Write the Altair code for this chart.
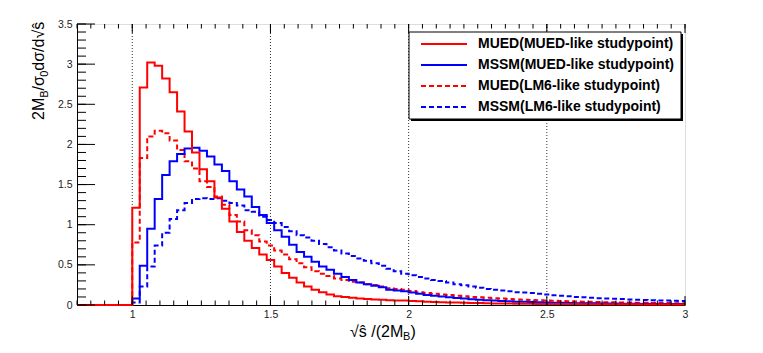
import altair as alt
import pandas as pd

# ---------------- data ----------------
series_names = [
    "MUED(MUED-like studypoint)",
    "MSSM(MUED-like studypoint)",
    "MUED(LM6-like studypoint)",
    "MSSM(LM6-like studypoint)",
]
series_colors = ["#ff0000", "#0000ff", "#ff0000", "#0000ff"]
series_dash = [[1, 0], [1, 0], [5, 3], [5, 3]]

x_domain = [0.8, 3.0]
y_domain = [0, 3.5]
hist_lo, hist_hi, n_bins = 1.0, 3.0, 74

mued_mued = [
    1.21, 2.71, 3.02, 2.98, 2.82, 2.65, 2.41, 2.16, 1.90, 1.69, 1.54, 1.34, 1.20, 1.04, 0.91, 0.80, 0.71, 0.63,
    0.56, 0.48, 0.40, 0.34, 0.28, 0.23, 0.19, 0.16, 0.13, 0.11, 0.10, 0.09, 0.08, 0.075, 0.07, 0.065, 0.06, 0.055,
    0.055, 0.05, 0.046, 0.042, 0.038, 0.035, 0.032, 0.03, 0.028, 0.026, 0.024, 0.022, 0.02, 0.019, 0.018, 0.017,
    0.016, 0.015, 0.014, 0.013, 0.012, 0.012, 0.011, 0.011, 0.01, 0.01, 0.009, 0.009, 0.009, 0.008, 0.008, 0.008,
    0.007, 0.007, 0.007, 0.006, 0.006, 0.006,
]
mssm_mued = [
    0.08, 0.49, 0.95, 1.32, 1.62, 1.79, 1.88, 1.95, 1.96, 1.92, 1.85, 1.75, 1.67, 1.54, 1.44, 1.35, 1.22, 1.12,
    1.02, 0.93, 0.85, 0.75, 0.66, 0.60, 0.54, 0.48, 0.44, 0.39, 0.35, 0.31, 0.28, 0.26, 0.24, 0.22, 0.19, 0.18,
    0.17, 0.155, 0.14, 0.125, 0.115, 0.105, 0.095, 0.087, 0.08, 0.073, 0.066, 0.06, 0.055, 0.05, 0.046, 0.042,
    0.039, 0.036, 0.033, 0.031, 0.029, 0.027, 0.025, 0.023, 0.022, 0.021, 0.02, 0.019, 0.018, 0.017, 0.016, 0.015,
    0.014, 0.013, 0.013, 0.012, 0.012, 0.011,
]
mued_lm6 = [
    0.78, 1.83, 2.10, 2.17, 2.14, 2.05, 1.93, 1.79, 1.70, 1.54, 1.47, 1.35, 1.25, 1.12, 1.04, 0.93, 0.87, 0.79,
    0.74, 0.68, 0.63, 0.57, 0.52, 0.47, 0.42, 0.39, 0.36, 0.33, 0.31, 0.29, 0.28, 0.26, 0.25, 0.23, 0.21, 0.20,
    0.19, 0.175, 0.16, 0.15, 0.14, 0.13, 0.125, 0.115, 0.11, 0.10, 0.095, 0.09, 0.085, 0.08, 0.075, 0.07,
    0.066, 0.062, 0.058, 0.055, 0.052, 0.049, 0.046, 0.043, 0.041, 0.039, 0.037, 0.035, 0.033, 0.031, 0.03, 0.028,
    0.027, 0.026, 0.025, 0.024, 0.023, 0.022,
]
mssm_lm6 = [
    0.03, 0.23, 0.48, 0.74, 0.90, 1.07, 1.18, 1.27, 1.32, 1.33, 1.32, 1.33, 1.30, 1.27, 1.24, 1.18, 1.16, 1.10,
    1.06, 1.02, 0.97, 0.92, 0.87, 0.84, 0.80, 0.76, 0.72, 0.68, 0.64, 0.61, 0.58, 0.55, 0.52, 0.49, 0.45, 0.42,
    0.39, 0.37, 0.35, 0.33, 0.31, 0.30, 0.28, 0.26, 0.245, 0.23, 0.215, 0.20, 0.19, 0.18, 0.17, 0.16,
    0.155, 0.15, 0.14, 0.13, 0.12, 0.115, 0.11, 0.10, 0.095, 0.09, 0.085, 0.08, 0.078, 0.075, 0.07, 0.066,
    0.063, 0.06, 0.057, 0.055, 0.052, 0.05,
]
series_values = [mued_mued, mssm_mued, mued_lm6, mssm_lm6]

x_labels = [1, 1.5, 2, 2.5, 3]
y_labels = [0, 0.5, 1, 1.5, 2, 2.5, 3, 3.5]
grid_x = [1, 1.5, 2, 2.5]
x_minor = [round(0.8 + 0.05 * i, 2) for i in range(45)]
x_major = [1.0, 1.5, 2.0, 2.5, 3.0]
y_minor = [round(0.1 * i, 1) for i in range(36)]
y_major = y_labels

# ---------------- build tables ----------------
W, H = 608, 281
FONT = "Liberation Sans"
bw = (hist_hi - hist_lo) / n_bins
rows = []
for name, vals in zip(series_names, series_values):
    rows.append({"series": name, "x": x_domain[0], "y": 0.0})
    for k, v in enumerate(vals):
        rows.append({"series": name, "x": hist_lo + k * bw, "y": v})
    rows.append({"series": name, "x": hist_hi, "y": vals[-1]})
hist_df = pd.DataFrame(rows)

xscale = alt.Scale(domain=x_domain, nice=False, zero=False)
yscale = alt.Scale(domain=y_domain, nice=False, zero=False)

x_axis = alt.Axis(values=x_labels, format="~g", ticks=False, grid=False, labelFlush=False,
                  labelPadding=4, labelFontSize=10.5, labelFont=FONT, labelColor="#222",
                  domainColor="black", title=None, labelOverlap=False)
y_axis = alt.Axis(values=y_labels, format="~g", ticks=False, grid=False, labelFlush=False,
                  labelPadding=5, labelFontSize=10.5, labelFont=FONT, labelColor="#222",
                  domainColor="black", title=None, labelOverlap=False)

X = lambda f: alt.X(f, scale=xscale, axis=x_axis)
Y = lambda f: alt.Y(f, scale=yscale, axis=y_axis)

layers = []

# dotted vertical grid
layers.append(
    alt.Chart(pd.DataFrame({"gx": grid_x})).mark_rule(color="#333", strokeDash=[1, 2], strokeWidth=1)
    .encode(x=X("gx:Q"))
)

# histograms (drawn so that the solid red is on top)
for i in [3, 2, 1, 0]:
    layers.append(
        alt.Chart(hist_df).transform_filter(alt.datum.series == series_names[i])
        .mark_line(interpolate="step-after", color=series_colors[i], strokeDash=series_dash[i],
                   strokeWidth=2)
        .encode(x=X("x:Q"), y=Y("y:Q"))
    )

# ticks (ROOT style, inside the frame)
def xticks(vals, y0, y1):
    return alt.Chart(pd.DataFrame({"t": vals})).mark_rule(color="black", strokeWidth=1).encode(
        x=X("t:Q"), y=alt.value(y0), y2=alt.value(y1))

def yticks(vals, x0, x1):
    return alt.Chart(pd.DataFrame({"t": vals})).mark_rule(color="black", strokeWidth=1).encode(
        y=Y("t:Q"), x=alt.value(x0), x2=alt.value(x1))

layers += [
    xticks(x_minor, H, H - 4.5), xticks(x_major, H, H - 9),
    xticks(x_minor, 0, 4.5), xticks(x_major, 0, 9),
    yticks(y_minor, 0, 9), yticks(y_major, 0, 18),
]

one = pd.DataFrame({"a": [0]})

# legend box
lx0, lx1, ly0, ly1 = 332, 604, 8, 95
layers.append(alt.Chart(one).mark_rect(fill="#000000").encode(
    x=alt.value(lx0 + 2), x2=alt.value(lx1 + 2), y=alt.value(ly0 + 2), y2=alt.value(ly1 + 2)))
layers.append(alt.Chart(one).mark_rect(fill="white", stroke="black", strokeWidth=1).encode(
    x=alt.value(lx0), x2=alt.value(lx1), y=alt.value(ly0), y2=alt.value(ly1)))
for i, name in enumerate(series_names):
    ry = 20 + i * 21
    layers.append(alt.Chart(one).mark_rule(color=series_colors[i], strokeDash=series_dash[i], strokeWidth=2)
                  .encode(x=alt.value(344), x2=alt.value(390), y=alt.value(ry)))
    layers.append(alt.Chart(one).mark_text(text=name, font=FONT, fontSize=14, fontWeight="bold",
                                           align="left", baseline="middle", color="black")
                  .encode(x=alt.value(401), y=alt.value(ry)))

# axis titles (with subscripts)
def txt(s, x, y, size, angle=0):
    return alt.Chart(one).mark_text(text=s, font=FONT, fontSize=size, align="left",
                                    baseline="alphabetic", color="black", angle=angle).encode(
        x=alt.value(x), y=alt.value(y))

layers += [
    txt("√ŝ /(2M", 273, 313, 16), txt("B", 326, 316, 11), txt(")", 333.5, 313, 16),
    txt("2M", -33, 96, 16, 270), txt("B", -29.5, 73.8, 11, 270), txt("/σ", -33, 66.5, 16, 270),
    txt("0", -29.5, 52.8, 11, 270), txt(" dσ/d√ŝ", -33, 46.7, 16, 270),
]

chart = alt.layer(*layers).properties(
    width=W, height=H,
    autosize=alt.AutoSizeParams(type="none"),
    padding={"left": 69, "top": 16, "right": 60, "bottom": 40},
).configure_view(stroke="black", strokeWidth=1).configure(background="white")

chart.save("out.html", embed_options={"renderer": "svg", "actions": False})
